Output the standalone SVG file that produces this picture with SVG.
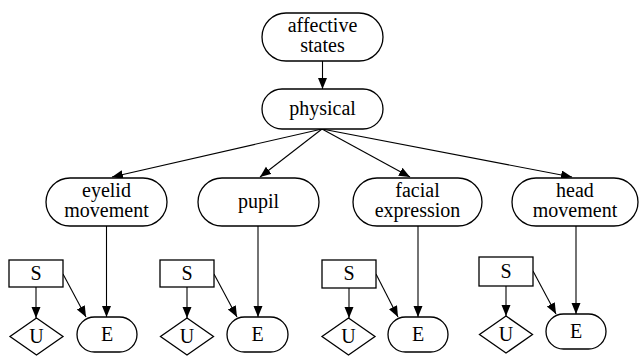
<svg xmlns="http://www.w3.org/2000/svg" width="640" height="356" viewBox="0 0 640 356">
<style>
.n{fill:#fff;stroke:#000;stroke-width:1.3}
.t{font-family:"Liberation Serif","Times New Roman",serif;font-size:20px;fill:#000;text-anchor:middle}
.e{stroke:#000;stroke-width:1.1;fill:none;marker-end:url(#a)}
</style>
<defs>
<marker id="a" markerUnits="userSpaceOnUse" markerWidth="12" markerHeight="10" refX="11" refY="4.5" orient="auto">
<path d="M0,0 L11,4.5 L0,9 Z" fill="#000"/>
</marker>
</defs>
<g id="connectors">
<line class="e" x1="322.5" y1="61" x2="322.5" y2="89"/>
<line class="e" x1="322" y1="129" x2="112" y2="177"/>
<line class="e" x1="322" y1="129" x2="260" y2="177"/>
<line class="e" x1="322" y1="129" x2="410" y2="177"/>
<line class="e" x1="322" y1="129" x2="572" y2="177"/>
<line class="e" x1="106.5" y1="226" x2="106.5" y2="317"/>
<line class="e" x1="36" y1="287" x2="36" y2="318"/>
<line class="e" x1="63" y1="274" x2="86" y2="317"/>
<line class="e" x1="258" y1="226" x2="258" y2="317"/>
<line class="e" x1="187" y1="287" x2="187" y2="318"/>
<line class="e" x1="214" y1="274" x2="237" y2="317"/>
<line class="e" x1="418" y1="226" x2="418" y2="317"/>
<line class="e" x1="349" y1="288" x2="349" y2="318"/>
<line class="e" x1="376" y1="274" x2="398" y2="317"/>
<line class="e" x1="576" y1="226" x2="576" y2="314"/>
<line class="e" x1="506" y1="286" x2="506" y2="316"/>
<line class="e" x1="533" y1="271" x2="556" y2="314"/>
</g>
<g id="affective"><rect class="n" x="262" y="13" width="121" height="48" rx="24"/><text class="t" x="322.5" y="32">affective</text><text class="t" x="322.5" y="52">states</text></g>
<g id="physical"><rect class="n" x="262" y="89" width="121" height="40" rx="20"/><text class="t" x="322.5" y="115">physical</text></g>
<g id="eyelid"><rect class="n" x="46" y="178" width="121" height="48" rx="24"/><text class="t" x="106.5" y="197">eyelid</text><text class="t" x="106.5" y="217">movement</text></g>
<g id="pupil"><rect class="n" x="198" y="178" width="121" height="48" rx="24"/><text class="t" x="258.5" y="208">pupil</text></g>
<g id="facial"><rect class="n" x="353" y="178" width="129" height="48" rx="24"/><text class="t" x="417.5" y="197">facial</text><text class="t" x="417.5" y="217">expression</text></g>
<g id="head"><rect class="n" x="512" y="178" width="126" height="48" rx="24"/><text class="t" x="575" y="197">head</text><text class="t" x="575" y="217">movement</text></g>
<g id="S1"><rect class="n" x="9" y="260" width="54" height="27"/><text class="t" x="36" y="280">S</text></g>
<g id="U1"><path class="n" d="M36.5,318 L63,336.5 L36.5,355 L10,336.5 Z"/><text class="t" x="36.5" y="343">U</text></g>
<g id="E1"><rect class="n" x="77" y="317" width="60" height="35" rx="17.5"/><text class="t" x="107" y="341">E</text></g>
<g id="S2"><rect class="n" x="160" y="260" width="54" height="27"/><text class="t" x="187" y="280">S</text></g>
<g id="U2"><path class="n" d="M187,318 L213.5,336.5 L187,355 L160.5,336.5 Z"/><text class="t" x="187" y="343">U</text></g>
<g id="E2"><rect class="n" x="227" y="317" width="61" height="35" rx="17.5"/><text class="t" x="257.5" y="341">E</text></g>
<g id="S3"><rect class="n" x="322" y="260" width="54" height="28"/><text class="t" x="349" y="280">S</text></g>
<g id="U3"><path class="n" d="M348.5,318 L375,336.5 L348.5,355 L322,336.5 Z"/><text class="t" x="348.5" y="343">U</text></g>
<g id="E3"><rect class="n" x="388" y="317" width="60" height="35" rx="17.5"/><text class="t" x="418" y="341">E</text></g>
<g id="S4"><rect class="n" x="479" y="257" width="54" height="29"/><text class="t" x="506" y="278">S</text></g>
<g id="U4"><path class="n" d="M506,316 L532.5,334.5 L506,353 L479.5,334.5 Z"/><text class="t" x="506" y="341">U</text></g>
<g id="E4"><rect class="n" x="546" y="314" width="60" height="35" rx="17.5"/><text class="t" x="576" y="338">E</text></g>
</svg>
